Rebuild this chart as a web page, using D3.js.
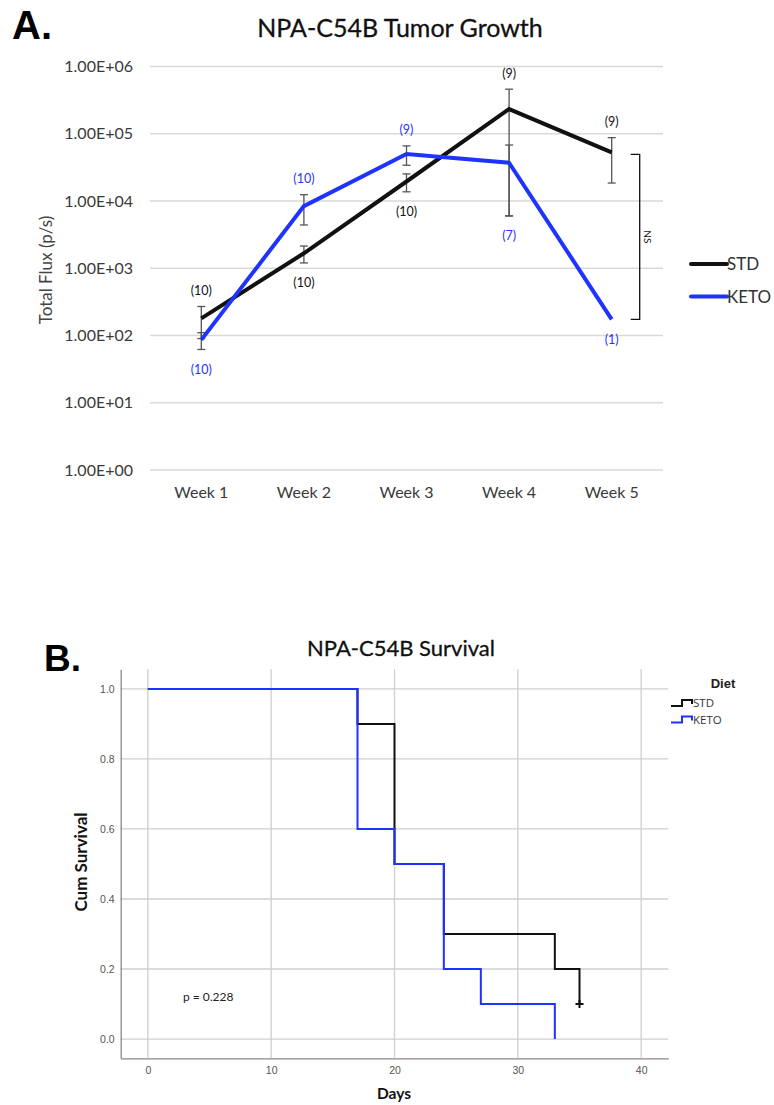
<!DOCTYPE html>
<html><head><meta charset="utf-8">
<script src="https://cdn.jsdelivr.net/npm/d3@7"></script>
<style>body{margin:0;background:#fff;} svg{display:block;}</style>
</head><body>
<svg id="chart" width="774" height="1105"></svg>
<script>
// ---------- Panel A data ----------
const weeks = ["Week 1", "Week 2", "Week 3", "Week 4", "Week 5"];
const fluxTicks = [1, 10, 100, 1000, 10000, 100000, 1000000];
const stdMean = [180, 1670, 19500, 233000, 53000];
const stdErr = [90, 470, 5800, 227000, 34500];
const stdN = [10, 10, 10, 9, 9];
const stdLabelSide = ["above", "below", "below", "above", "above"];
const ketoMean = [86, 8400, 50000, 37000, 174];
const ketoErr = [24, 4000, 16000, 31000, 0];
const ketoN = [10, 10, 9, 7, 1];
const ketoLabelSide = ["below", "above", "above", "below", "below"];
const groupNames = ["STD", "KETO"];
const groupColors = ["#111111", "#1f33ff"];

// ---------- Panel B data ----------
const dayTicks = [0, 10, 20, 30, 40];
const survTicks = [0.0, 0.2, 0.4, 0.6, 0.8, 1.0];
const stdTimes = [0, 17, 20, 24, 33, 35];
const stdSurv = [1.0, 0.9, 0.5, 0.3, 0.2, 0.1];
const stdCensor = [35];
const stdCensorSurv = [0.1];
const ketoTimes = [0, 17, 20, 24, 27, 33];
const ketoSurv = [1.0, 0.6, 0.5, 0.2, 0.1, 0.0];
const pValueText = "p = 0.228";

const svg = d3.select("#chart");
const LATO = "Lato, 'Open Sans', sans-serif";

// ================= Panel A =================
svg.append("text").attr("x", 12).attr("y", 39).text("A.")
  .attr("font-family", "'Liberation Sans', Arial, sans-serif").attr("font-weight", "bold")
  .attr("font-size", 40).attr("fill", "#000");
svg.append("text").attr("x", 400).attr("y", 37).attr("text-anchor", "middle")
  .attr("font-family", LATO).attr("font-size", 25).attr("fill", "#111")
  .attr("stroke", "#111").attr("stroke-width", 0.3)
  .text("NPA-C54B Tumor Growth");

const xA = d3.scaleBand().domain(weeks).range([150, 663]);
const cx = w => xA(w) + xA.bandwidth() / 2;
const yA = d3.scaleLog().domain([1, 1e6]).range([470, 66.5]);

const gA = svg.append("g");
// grid
gA.selectAll("line.grid").data(fluxTicks).join("line")
  .attr("x1", 150).attr("x2", 663)
  .attr("y1", d => yA(d)).attr("y2", d => yA(d))
  .attr("stroke", "#d9d9d9").attr("stroke-width", 1.5);
// y axis labels via axis
const yAxisA = d3.axisLeft(yA).tickValues(fluxTicks).tickSize(0).tickPadding(0)
  .tickFormat(d => { const e = Math.round(Math.log10(d)); return "1.00E+" + (e < 10 ? "0" + e : e); });
const yAxG = gA.append("g").attr("transform", "translate(133,0)").call(yAxisA);
yAxG.select(".domain").remove();
yAxG.selectAll("text").attr("font-family", LATO).attr("font-size", 16).attr("fill", "#3a3a3a");
// x axis labels
const xAxisA = d3.axisBottom(xA).tickSize(0).tickPadding(0);
const xAxG = gA.append("g").attr("transform", "translate(0,487)").call(xAxisA);
xAxG.select(".domain").remove();
xAxG.selectAll("text").attr("font-family", LATO).attr("font-size", 16).attr("fill", "#3a3a3a");
// y title
svg.append("text").attr("transform", "translate(52,270) rotate(-90)").attr("text-anchor", "middle")
  .attr("font-family", LATO).attr("font-size", 17).attr("fill", "#444").text("Total Flux (p/s)");

const series = [
  {name: groupNames[0], color: groupColors[0], mean: stdMean, err: stdErr, n: stdN, side: stdLabelSide},
  {name: groupNames[1], color: groupColors[1], mean: ketoMean, err: ketoErr, n: ketoN, side: ketoLabelSide}
];
// error bars
series.forEach(s => {
  weeks.forEach((w, i) => {
    if (!s.err[i]) return;
    const hi = s.mean[i] + s.err[i], lo = Math.max(1, s.mean[i] - s.err[i]);
    const x = cx(w);
    const g = gA.append("g").attr("stroke", "#555").attr("stroke-width", 1.3);
    g.append("line").attr("x1", x).attr("x2", x).attr("y1", yA(hi)).attr("y2", yA(lo));
    g.append("line").attr("x1", x - 4).attr("x2", x + 4).attr("y1", yA(hi)).attr("y2", yA(hi));
    g.append("line").attr("x1", x - 4).attr("x2", x + 4).attr("y1", yA(lo)).attr("y2", yA(lo));
  });
});
// lines
const lineA = d3.line().x((d, i) => cx(weeks[i])).y(d => yA(d));
series.forEach(s => {
  gA.append("path").datum(s.mean).attr("d", lineA).attr("fill", "none")
    .attr("stroke", s.color).attr("stroke-width", 4).attr("stroke-linejoin", "miter");
});
// n labels
series.forEach(s => {
  weeks.forEach((w, i) => {
    const hi = s.mean[i] + s.err[i], lo = Math.max(1, s.mean[i] - s.err[i]);
    const y = s.side[i] === "above" ? yA(hi) - 16 : yA(lo) + 20;
    gA.append("text").attr("x", cx(w)).attr("y", y).attr("dy", "0.35em")
      .attr("text-anchor", "middle").attr("font-family", LATO).attr("font-size", 12.5)
      .attr("fill", s.color).text("(" + s.n[i] + ")");
  });
});
// NS bracket
{
  const bx = cx(weeks[4]) + 28;
  const yt = yA(stdMean[4]) + 2, yb = yA(ketoMean[4]);
  gA.append("path").attr("d", `M${bx - 9},${yt}H${bx}V${yb}H${bx - 9}`)
    .attr("fill", "none").attr("stroke", "#111").attr("stroke-width", 1.3);
  gA.append("text").attr("transform", `translate(${bx + 4},${(yt + yb) / 2}) rotate(90)`)
    .attr("text-anchor", "middle").attr("font-family", LATO).attr("font-size", 10)
    .attr("fill", "#111").text("NS");
}
// legend A
series.forEach((s, i) => {
  const y = 264 + i * 32.5;
  gA.append("line").attr("x1", 691).attr("x2", 727).attr("y1", y).attr("y2", y)
    .attr("stroke", s.color).attr("stroke-width", 4).attr("stroke-linecap", "round");
  gA.append("text").attr("x", 727).attr("y", y).attr("dy", "0.36em")
    .attr("font-family", LATO).attr("font-size", 17).attr("fill", "#333").text(s.name);
});

// ================= Panel B =================
svg.append("text").attr("x", 44).attr("y", 671).text("B.")
  .attr("font-family", "'Liberation Sans', Arial, sans-serif").attr("font-weight", "bold")
  .attr("font-size", 37).attr("fill", "#000");
svg.append("text").attr("x", 401).attr("y", 656).attr("text-anchor", "middle")
  .attr("font-family", LATO).attr("font-size", 22).attr("fill", "#111")
  .attr("stroke", "#111").attr("stroke-width", 0.3)
  .text("NPA-C54B Survival");

const xB = d3.scaleLinear().domain([-2.2, 42.2]).range([120.7, 668.3]);
const yB = d3.scaleLinear().domain([-0.055, 1.056]).range([1058.3, 669.3]);
const gB = svg.append("g");
gB.selectAll("line.hg").data(survTicks).join("line")
  .attr("x1", 120.7).attr("x2", 668.3).attr("y1", d => yB(d)).attr("y2", d => yB(d))
  .attr("stroke", "#cfcfcf").attr("stroke-width", 1.3);
gB.selectAll("line.vg").data(dayTicks).join("line")
  .attr("x1", d => xB(d)).attr("x2", d => xB(d)).attr("y1", 669.3).attr("y2", 1058.3)
  .attr("stroke", "#cfcfcf").attr("stroke-width", 1.3);

const yAxB = gB.append("g").attr("transform", "translate(120.7,0)")
  .call(d3.axisLeft(yB).tickValues(survTicks).tickFormat(d3.format(".1f")).tickSize(0).tickPadding(6));
yAxB.select(".domain").attr("stroke", "#888").attr("stroke-width", 1.3);
yAxB.selectAll("text").attr("font-family", "'Liberation Sans', Arial, sans-serif").attr("font-size", 10.5).attr("fill", "#555");
const xAxB = gB.append("g").attr("transform", "translate(0,1058.3)")
  .call(d3.axisBottom(xB).tickValues(dayTicks).tickSize(0).tickPadding(8));
xAxB.select(".domain").attr("stroke", "#888").attr("stroke-width", 1.3);
xAxB.selectAll("text").attr("font-family", "'Liberation Sans', Arial, sans-serif").attr("font-size", 10.5).attr("fill", "#555");

svg.append("text").attr("x", 394).attr("y", 1099).attr("text-anchor", "middle")
  .attr("font-family", LATO).attr("font-weight", "bold").attr("font-size", 15.5).attr("fill", "#111").text("Days");
svg.append("text").attr("transform", "translate(87,862) rotate(-90)").attr("text-anchor", "middle")
  .attr("font-family", LATO).attr("font-weight", "bold").attr("font-size", 17).attr("fill", "#111").text("Cum Survival");

// step curves
function stepPoints(times, surv) {
  const pts = [];
  times.forEach((t, i) => {
    if (i > 0) pts.push([t, surv[i - 1]]);
    pts.push([t, surv[i]]);
  });
  return pts;
}
const lineB = d3.line().x(d => xB(d[0])).y(d => yB(d[1]));
gB.append("path").datum(stepPoints(stdTimes, stdSurv)).attr("d", lineB)
  .attr("fill", "none").attr("stroke", "#111").attr("stroke-width", 2);
// censor marks
stdCensor.forEach((t, i) => {
  const x = xB(t), y = yB(stdCensorSurv[i]);
  gB.append("path").attr("d", `M${x - 4},${y}H${x + 4}M${x},${y - 4}V${y + 4}`)
    .attr("stroke", "#111").attr("stroke-width", 2);
});
gB.append("path").datum(stepPoints(ketoTimes, ketoSurv)).attr("d", lineB)
  .attr("fill", "none").attr("stroke", "#1f33ff").attr("stroke-width", 2);

svg.append("text").attr("x", 183).attr("y", 997).attr("dy", "0.35em")
  .attr("font-family", LATO).attr("font-size", 12).attr("fill", "#222").text(pValueText);

// legend B
svg.append("text").attr("x", 723).attr("y", 683).attr("dy", "0.35em").attr("text-anchor", "middle")
  .attr("font-family", "'Liberation Sans', Arial, sans-serif").attr("font-weight", "bold")
  .attr("font-size", 13).attr("fill", "#222").text("Diet");
[[groupNames[0], groupColors[0]], [groupNames[1], groupColors[1]]].forEach((d, i) => {
  const y = 703 + i * 16.5;
  svg.append("path").attr("d", `M671,${y + 3}H682V${y - 3}H692V${y + 1}`)
    .attr("fill", "none").attr("stroke", d[1]).attr("stroke-width", 2);
  svg.append("text").attr("x", 693).attr("y", y).attr("dy", "0.35em")
    .attr("font-family", "'Open Sans', 'DejaVu Sans', sans-serif").attr("font-size", 11.5)
    .attr("fill", "#333").text(d[0]);
});
</script>
</body></html>
